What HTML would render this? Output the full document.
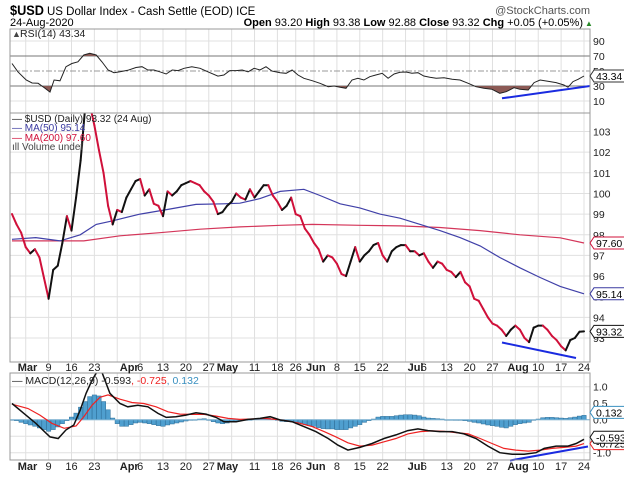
<!DOCTYPE html>
<html><head><meta charset="utf-8"><style>
html,body{margin:0;padding:0;background:#fff;}
svg{display:block;font-family:"Liberation Sans",sans-serif;}
</style></head><body>
<svg id="chart" width="624" height="482" viewBox="0 0 624 482" xmlns="http://www.w3.org/2000/svg">
<defs>
<clipPath id="clipRsi"><rect x="10" y="29" width="580" height="84"/></clipPath>
<clipPath id="clipMain"><rect x="10" y="113" width="580" height="249"/></clipPath>
<clipPath id="clipMacd"><rect x="10" y="373" width="580" height="87"/></clipPath>
<clipPath id="below30"><rect x="10" y="86" width="580" height="27"/></clipPath>
<clipPath id="above70"><rect x="10" y="29" width="580" height="27"/></clipPath>
</defs>
<g id="header">
<text x="10" y="15" font-size="14" font-weight="bold" textLength="34" lengthAdjust="spacingAndGlyphs">$USD</text>
<text x="47" y="15" font-size="11.5">US Dollar Index - Cash Settle (EOD) ICE</text>
<text x="590" y="14" font-size="11" text-anchor="end" fill="#555">@StockCharts.com</text>
<text x="10" y="26" font-size="11">24-Aug-2020</text>
<text x="583" y="26" font-size="11" text-anchor="end"><tspan font-weight="bold">Open</tspan> 93.20 <tspan font-weight="bold">High</tspan> 93.38 <tspan font-weight="bold">Low</tspan> 92.88 <tspan font-weight="bold">Close</tspan> 93.32 <tspan font-weight="bold">Chg</tspan> +0.05 (+0.05%)</text>
<text x="585" y="26" font-size="8" fill="#2a8a2a">▲</text>
</g>
<g id="rsiPanel"></g>
<g id="mainPanel"></g>
<g id="macdPanel"></g>
</svg>
<script>
// ---------- data ----------
const closes = [99.0,98.5,98.1,97.4,97.1,97.3,96.9,95.9,94.9,96.3,96.5,97.6,98.9,98.2,99.8,101.6,104.2,104.3,103.3,102.1,101.0,99.4,98.5,99.2,99.1,99.8,100.2,100.6,100.7,99.9,100.2,99.5,99.4,98.9,100.1,99.9,100.1,100.4,100.5,100.6,100.5,100.4,100.1,99.9,99.6,99.0,99.1,99.4,99.6,100.0,99.8,99.7,100.2,99.8,100.1,100.4,100.4,99.9,99.6,99.2,99.4,99.8,99.0,98.9,98.3,98.0,97.6,97.3,96.7,97.0,96.9,96.6,96.1,96.0,96.7,97.4,96.7,97.0,97.2,97.5,97.6,97.0,96.7,97.2,97.4,97.5,97.5,97.2,97.2,97.0,97.1,96.7,96.4,96.7,96.6,96.3,96.2,95.95,96.2,95.7,95.5,94.9,94.8,94.4,94.0,93.7,93.6,93.4,93.1,93.4,93.6,93.4,93.0,92.8,93.5,93.6,93.6,93.4,93.1,92.9,92.6,92.4,92.9,93.0,93.3,93.32];
const ma50Idx = [0,5.2,10.5,14.9,18.4,21.9,28,34.1,40.2,46.3,49.8,54.2,58.6,63.8,67.3,71.7,76,80.4,84.8,89.2,93.5,97.9,102.3,106.6,111,115.4,119.8,125];
const ma50Val = [97.78,97.86,97.7,98.0,98.5,98.67,99.0,99.23,99.47,99.5,99.53,99.75,100.1,100.2,99.9,99.5,99.3,99.0,98.8,98.5,98.2,97.86,97.46,96.9,96.4,95.93,95.5,95.14];
const ma200Idx = [0,15.7,23.6,32.3,41.1,49.8,58.6,65.6,76,84.8,93.5,102.3,111,119.8,125];
const ma200Val = [97.7,97.7,97.95,98.1,98.27,98.38,98.46,98.5,98.46,98.43,98.35,98.2,98.0,97.85,97.6];
const rsiIdx = [0,1.3,3.1,4.4,5.7,7,8.3,9.2,10.5,11.8,13.1,14.4,15.7,17,18.4,19.7,21,22.3,23.6,25.3,27.1,28.4,29.7,31,32.3,33.7,35,36.3,37.6,39.3,41.1,42.8,45,46.3,47.6,49,50.3,51.6,52.9,54.2,55.5,56.8,58.6,59.9,61.2,62.5,63.8,65.6,67.3,69.1,70.4,71.7,73,74.3,75.6,76.9,78.2,79.5,80.9,82.2,83.5,84.8,86.1,87.4,88.7,90,91.3,92.7,94.4,96.2,97.9,99.7,101.4,103.1,104.9,106.6,108,109.7,111,112.8,114.1,115.4,117.1,118.9,120.6,121.5,122.6,123.7,125];
const rsiVal = [60,49,38,34,33.6,28,22,38,37,55.8,60,62.2,71.3,73.6,71.3,62,51.3,47.8,49,51,54.7,55.8,51.3,51.3,49,46,51.3,50.5,53.6,55.8,53.6,49,43.2,44.6,50.5,50.5,51.3,49,53.6,51.3,55.8,50,47.8,46.9,51.3,44.6,40.2,37.1,33.6,29.1,30,28.3,27,38,40.2,38,42.4,44.6,46.9,40.2,46,48.2,48.7,46.9,47.8,43.3,41.6,40.2,41,38.9,38,33.6,29.1,27,25.6,20.2,22.4,27.7,25.6,24.7,34.5,38,36.3,34.5,31.4,28.3,35.9,38.9,43.34];
const macdIdx = [0,2.6,5.2,8.3,10.1,11.8,13.5,14.9,16.2,17.5,19.2,21.4,23.6,25.3,27.5,29.7,31.9,33.7,35.8,38,40.2,42.4,44.6,46.3,49,51.6,54.2,56.4,58.6,61.2,63.8,66.4,69.1,71.2,73.4,76,78.7,81.3,83.9,86.5,88.7,90.9,93.5,96.2,98.8,101.4,104,106.6,109.3,111.9,114.5,116.3,118.9,121.5,123.3,125];
const macdVal = [0.49,0.19,-0.11,-0.52,-0.57,-0.31,-0.16,0.29,0.8,1.2,1.6,0.8,0.49,0.39,0.44,0.39,0.19,0.07,0.09,0.14,0.21,0.17,0.07,-0.06,-0.06,0.01,0.04,0.09,-0.01,-0.06,-0.21,-0.36,-0.57,-0.77,-0.92,-0.84,-0.72,-0.57,-0.46,-0.33,-0.28,-0.33,-0.36,-0.36,-0.43,-0.57,-0.8,-1.0,-1.05,-1.05,-1.0,-0.87,-0.8,-0.8,-0.72,-0.593];
const sigIdx = [0,3.5,6.1,8.7,11.4,14,15.7,17.5,19.2,21,23.6,26.2,28.8,31.5,34.1,36.7,39.3,42,44.6,47.2,49.8,52.4,55.1,57.7,60.3,62.9,65.6,68.2,70.8,73.4,76,78.7,81.3,83.9,86.5,89.2,91.8,94.4,97,99.7,102.3,104.9,107.5,110.1,112.8,115.4,118,120.6,123.3,125];
const sigVal = [0.47,0.34,0.14,-0.11,-0.26,-0.19,0.09,0.44,0.68,0.75,0.62,0.52,0.49,0.39,0.24,0.17,0.16,0.16,0.11,0.04,0.01,0.02,0.04,0.01,-0.04,-0.11,-0.21,-0.36,-0.52,-0.7,-0.8,-0.77,-0.67,-0.57,-0.43,-0.36,-0.34,-0.35,-0.39,-0.43,-0.57,-0.72,-0.87,-0.92,-0.95,-0.92,-0.87,-0.84,-0.8,-0.725];
const histVal = [0,-0.03,-0.08,-0.12,-0.16,-0.2,-0.25,-0.3,-0.35,-0.3,-0.22,-0.12,-0.03,0.08,0.2,0.38,0.55,0.7,0.75,0.72,0.55,0.3,0.05,-0.12,-0.2,-0.2,-0.15,-0.1,-0.08,-0.1,-0.12,-0.15,-0.18,-0.2,-0.16,-0.13,-0.1,-0.07,-0.04,-0.02,0,0.02,0.03,-0.02,-0.06,-0.1,-0.12,-0.1,-0.07,-0.05,-0.03,-0.02,0,0.02,0.03,0.04,0.05,0.02,-0.02,-0.05,-0.06,-0.05,-0.08,-0.1,-0.14,-0.18,-0.2,-0.24,-0.27,-0.28,-0.28,-0.3,-0.3,-0.3,-0.25,-0.2,-0.15,-0.08,-0.03,0.02,0.08,0.1,0.1,0.1,0.12,0.14,0.15,0.15,0.14,0.12,0.08,0.05,0.04,0.03,0.02,0,-0.01,-0.02,-0.02,-0.03,-0.05,-0.08,-0.1,-0.13,-0.16,-0.18,-0.2,-0.23,-0.25,-0.2,-0.15,-0.12,-0.1,-0.08,-0.02,0.02,0.06,0.07,0.07,0.06,0.05,0.04,0.06,0.08,0.11,0.132];
const weekIdx = [3,8,13,18,23,28,33,38,43,48,53,58,62,66,71,76,81,86,90,95,100,105,110,115,120,125];
const weekLbl = ["","9","16","23","","6","13","20","27","","11","18","26","","8","15","22","","6","13","20","27","","10","17","24"];
const monthIdx = [3,25.3,46.5,66,88.2,110];
const monthLbl = ["Mar","Apr","May","Jun","Jul","Aug"];
const priceTicks = [93,94,95,96,97,98,99,100,101,102,103];
const rsiTicks = [10,30,50,70,90];
const macdTicks = [-1.0,-0.5,0.0,0.5,1.0];

// ---------- axes ----------
const L=10,R=590;
const xOf = i => 12 + 4.576*i;
const rsiY = v => 86 - (v-30)*0.75;
const priceY = v => 338 - (v-93)*20.65;
const macdY = v => 419.7 - v*33;
const NS="http://www.w3.org/2000/svg";
function mk(parent,tag,attrs,txt){const e=document.createElementNS(NS,tag);for(const k in attrs)e.setAttribute(k,attrs[k]);if(txt!==undefined)e.textContent=txt;parent.appendChild(e);return e;}
function pts(idx,val,fy){return idx.map((i,k)=>xOf(i).toFixed(1)+","+fy(val[k]).toFixed(1)).join(" ");}

function panelFrame(g,top,bot,name){
  for(const i of weekIdx){
    const l=mk(g,'line',{x1:xOf(i),x2:xOf(i),y1:top,y2:bot,stroke:'#e0e0e0','stroke-width':1});
    
    
  }
}
function border(g,top,bot,name){
  const r=mk(g,'rect',{x:L,y:top,width:R-L,height:bot-top,fill:'none',stroke:'#999','stroke-width':1});
  
  
}
function tag(g,y,txt,color,name){
  const w=txt.length*5.6+4;
  const p=mk(g,'path',{d:`M${R} ${y} L${R+4} ${y-6} L${R+4+w} ${y-6} L${R+4+w} ${y+6} L${R+4} ${y+6} Z`,fill:'#fff',stroke:color,'stroke-width':1});
  
  
  const t=mk(g,'text',{x:R+6,y:y+4,'font-size':10.5,fill:'#000'},txt);
  
  
}
function dateAxis(y){
  const svg=document.getElementById('chart');
  weekIdx.forEach((i,k)=>{
    const s=weekLbl[k]; if(!s)return;
    const t=mk(svg,'text',{x:xOf(i),y:y,'font-size':11,'text-anchor':'middle',fill:'#222'},s);
    
    
  });
  monthIdx.forEach((i,k)=>{
    const t=mk(svg,'text',{x:xOf(i)-8,y:y,'font-size':11,'font-weight':'bold',fill:'#222'},monthLbl[k]);
    
    
  });
}

// ---------- RSI ----------
(function(){
  const g=document.getElementById('rsiPanel');
  panelFrame(g,29,113,'rsi');
  for(const v of rsiTicks){
    const ln=mk(g,'line',{x1:L,x2:R,y1:rsiY(v),y2:rsiY(v),stroke:(v===30||v===70)?'#777':(v===50?'#999':'#e0e0e0'),'stroke-width':1,'stroke-dasharray':v===50?'6,2,2,2':'none'});
    
    
    const t=mk(g,'text',{x:593,y:rsiY(v)+4,'font-size':10.5,fill:'#222'},String(v));
    
    
  }
  const line=pts(rsiIdx,rsiVal,rsiY);
  const f1=mk(g,'polygon',{points:line+` ${xOf(125)},${rsiY(30)} ${xOf(0)},${rsiY(30)}`,fill:'#8c5a55','clip-path':'url(#below30)'});
  
  
  const f2=mk(g,'polygon',{points:line+` ${xOf(125)},${rsiY(70)} ${xOf(0)},${rsiY(70)}`,fill:'#8c5a55','clip-path':'url(#above70)'});
  
  
  const pl=mk(g,'polyline',{points:line,fill:'none',stroke:'#222','stroke-width':1,'clip-path':'url(#clipRsi)'});
  
  
  const tl=mk(g,'line',{x1:502,y1:98.3,x2:590,y2:86,stroke:'#1a2be0','stroke-width':2});
  
  
  border(g,29,113,'rsi');
  const lg=mk(g,'text',{x:20,y:37,'font-size':10.5,fill:'#222'},'RSI(14) 43.34');
  
  
  const ic=mk(g,'text',{x:12,y:37,'font-size':9,fill:'#444'},'▲');
  
  
  tag(g,rsiY(43.34),'43.34','#333','rsi-value');
})();

// ---------- Price ----------
(function(){
  const g=document.getElementById('mainPanel');
  panelFrame(g,113,362,'price');
  for(const v of priceTicks){
    const ln=mk(g,'line',{x1:L,x2:R,y1:priceY(v),y2:priceY(v),stroke:'#e0e0e0','stroke-width':1});
    
    
    const t=mk(g,'text',{x:593,y:priceY(v)+4,'font-size':10.5,fill:'#222'},String(v));
    
    
  }
  const m2=mk(g,'polyline',{points:pts(ma200Idx,ma200Val,priceY),fill:'none',stroke:'#d4365a','stroke-width':1.2,'clip-path':'url(#clipMain)'});
  
  
  const m1=mk(g,'polyline',{points:pts(ma50Idx,ma50Val,priceY),fill:'none',stroke:'#4040a8','stroke-width':1.2,'clip-path':'url(#clipMain)'});
  
  
  for(let i=1;i<closes.length;i++){
    const s=mk(g,'line',{x1:xOf(i-1),y1:priceY(closes[i-1]),x2:xOf(i),y2:priceY(closes[i]),stroke:closes[i]<closes[i-1]?'#d0103a':'#111','stroke-width':2,'stroke-linecap':'round','clip-path':'url(#clipMain)'});
    
    
  }
  const tl=mk(g,'line',{x1:502,y1:342.5,x2:576,y2:358,stroke:'#1a2be0','stroke-width':2});
  
  
  border(g,113,362,'price');
  const legend=[['— $USD (Daily) 93.32 (24 Aug)','#222',122],['— MA(50) 95.14','#3a3aa0',131],['— MA(200) 97.60','#d0103a',141],['ıll Volume undef','#444',150]];
  for(const [s,c,y] of legend){
    const t=mk(g,'text',{x:12,y:y,'font-size':10,fill:c},s);
    
    
  }
  tag(g,priceY(97.6),'97.60','#d0103a','ma200-value');
  tag(g,priceY(95.14),'95.14','#3a3aa0','ma50-value');
  tag(g,priceY(93.32),'93.32','#111','close-value');
})();
dateAxis(371);

// ---------- MACD ----------
(function(){
  const g=document.getElementById('macdPanel');
  panelFrame(g,373,460,'macd');
  for(const v of macdTicks){
    const ln=mk(g,'line',{x1:L,x2:R,y1:macdY(v),y2:macdY(v),stroke:'#e0e0e0','stroke-width':1});
    
    
    const t=mk(g,'text',{x:593,y:macdY(v)+4,'font-size':10.5,fill:'#222'},v.toFixed(1));
    
    
  }
  histVal.forEach((v,i)=>{
    const y0=macdY(0),y1=macdY(v);
    const b=mk(g,'rect',{x:xOf(i)-2.2,y:Math.min(y0,y1),width:4.4,height:Math.max(0.6,Math.abs(y1-y0)),fill:'#4f9fcf',stroke:'#2e6e98','stroke-width':0.5,'clip-path':'url(#clipMacd)'});
    
    
  });
  const zl=mk(g,'line',{x1:L,x2:R,y1:macdY(0),y2:macdY(0),stroke:'#7fb5d5','stroke-width':1});
  
  
  const sg=mk(g,'polyline',{points:pts(sigIdx,sigVal,macdY),fill:'none',stroke:'#ee2222','stroke-width':1.2,'clip-path':'url(#clipMacd)'});
  
  
  const ml=mk(g,'polyline',{points:pts(macdIdx,macdVal,macdY),fill:'none',stroke:'#111','stroke-width':1.5,'clip-path':'url(#clipMacd)'});
  
  
  const tl=mk(g,'line',{x1:510,y1:460.5,x2:588,y2:446.5,stroke:'#1a2be0','stroke-width':2});
  
  
  border(g,373,460,'macd');
  const lg=mk(g,'text',{x:12,y:384,'font-size':10.5,fill:'#222'});
  
  
  mk(lg,'tspan',{},'— MACD(12,26,9) -0.593');
  mk(lg,'tspan',{fill:'#ee2222'},', -0.725');
  mk(lg,'tspan',{fill:'#3a90c0'},', 0.132');
  tag(g,macdY(-0.725),'-0.725','#ee2222','signal-value');
  tag(g,macdY(-0.593)-2,'-0.593','#111','macd-value');
  tag(g,macdY(0.132)-3,'0.132','#3a90c0','histogram-value');
})();
dateAxis(470);
</script>
</body></html>
